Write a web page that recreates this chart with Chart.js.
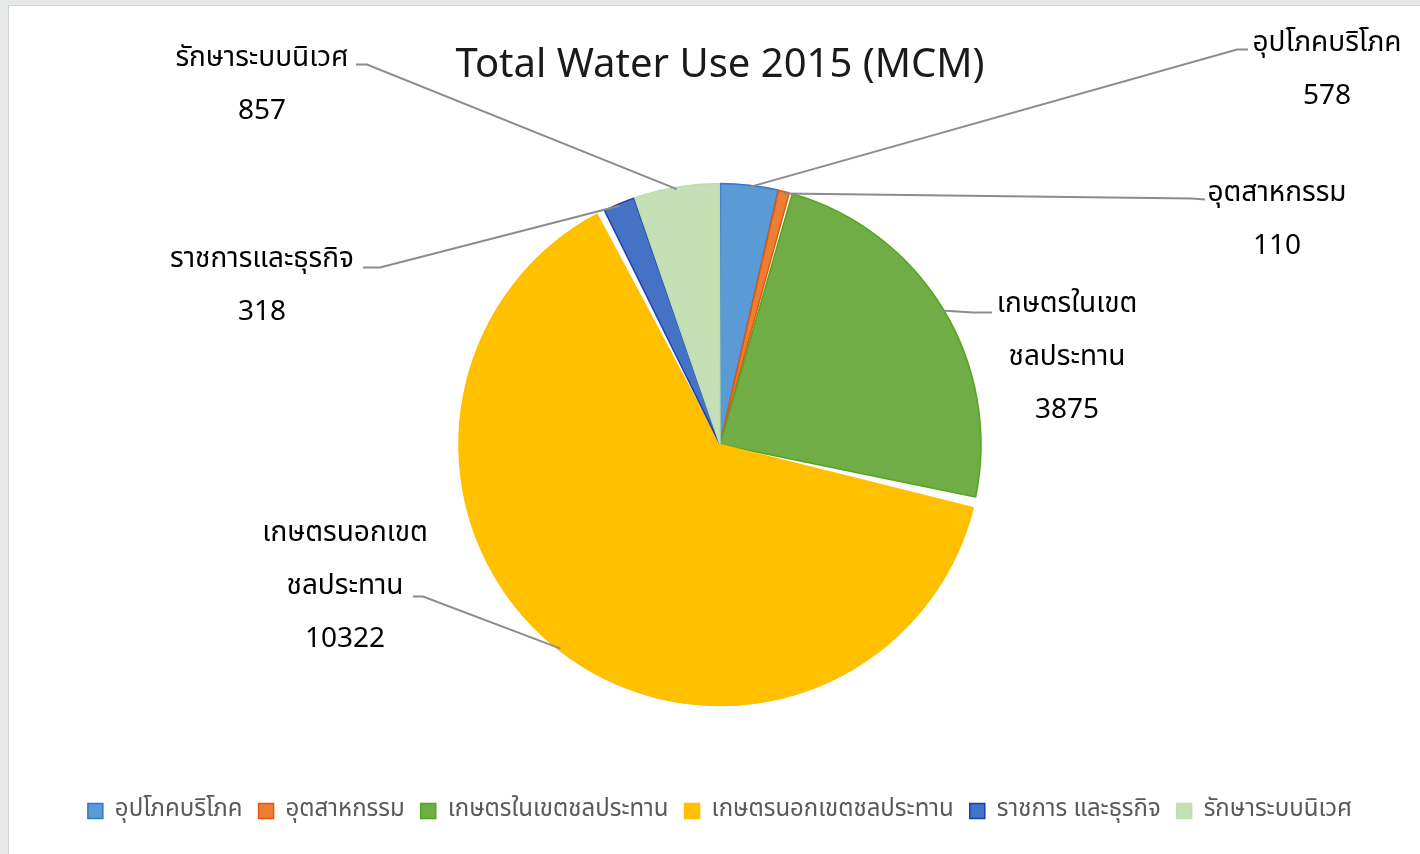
<!DOCTYPE html>
<html>
<head>
<meta charset="utf-8">
<script src="https://cdn.jsdelivr.net/npm/chart.js@4.4.1/dist/chart.umd.min.js"></script>
<style>
  html, body { margin: 0; padding: 0; }
  body { width: 1420px; height: 854px; background: #e6e8e8; position: relative; overflow: hidden; }
  .frame { position: absolute; left: 8px; top: 5px; right: 0; bottom: 0; background: #fff; border-left: 1px solid #cdd1d1; border-top: 1px solid #cdd1d1; }
  #water-chart { position: absolute; left: 0; top: 0; }
</style>
</head>
<body>
<div class="frame"></div>
<canvas id="water-chart" width="1420" height="854"></canvas>
<script>
const FONT = "Tahoma, 'Noto Sans Thai', 'Noto Sans', 'DejaVu Sans', sans-serif";

// categories as shown in the legend
const categories = ["อุปโภคบริโภค", "อุตสาหกรรม", "เกษตรในเขตชลประทาน", "เกษตรนอกเขตชลประทาน", "ราชการ และธุรกิจ", "รักษาระบบนิเวศ"];
// names as written next to the slices
const sliceNames = [["อุปโภคบริโภค"], ["อุตสาหกรรม"], ["เกษตรในเขต", "ชลประทาน"], ["เกษตรนอกเขต", "ชลประทาน"], ["ราชการและธุรกิจ"], ["รักษาระบบนิเวศ"]];
// water use in million cubic metres
const waterUse = [578, 110, 3875, 10322, 318, 857];

const fillColors = ["#5B9BD5", "#ED7D31", "#70AD47", "#FFC000", "#4472C4", "#C5E0B4"];
const edgeColors = ["#2F7ACF", "#E8560C", "#55A51E", "#FFBE00", "#1B3DB3", "#C0DDAE"];

// label layout, offsets from the pie centre: elbow of leader, end of leader, centre of text block, line that the leader hits
const labelLayout = [
  { elbow: [517, -395], end: [528, -395], text: [607, -403], hook: 0 },
  { elbow: [472, -246], end: [485, -245], text: [557, -253], hook: 0 },
  { elbow: [253, -132], end: [272, -132], text: [347, -142], hook: 0 },
  { elbow: [-297, 152], end: [-307, 152], text: [-375, 140], hook: 1 },
  { elbow: [-340, -177], end: [-357, -177], text: [-458, -187], hook: 0 },
  { elbow: [-353, -380], end: [-364, -380], text: [-458, -388], hook: 0 }
];

//draw slice names, values and leader lines
const sliceLabels = {
  id: "sliceLabels",
  afterDatasetsDraw(chart) {
    const ctx = chart.ctx;
    const meta = chart.getDatasetMeta(0);
    const cx = (chart.chartArea.left + chart.chartArea.right) / 2;
    const cy = (chart.chartArea.top + chart.chartArea.bottom) / 2;
    ctx.save();
    meta.data.forEach((arc, i) => {
      const p = arc.getProps(["x", "y", "startAngle", "endAngle", "outerRadius"], true);
      const mid = (p.startAngle + p.endAngle) / 2;
      const sx = p.x + Math.cos(mid) * p.outerRadius;
      const sy = p.y + Math.sin(mid) * p.outerRadius;
      const lay = labelLayout[i];
      ctx.strokeStyle = "#8c8c8c";
      ctx.lineWidth = 2;
      ctx.beginPath();
      ctx.moveTo(sx, sy);
      ctx.lineTo(cx + lay.elbow[0], cy + lay.elbow[1]);
      ctx.lineTo(cx + lay.end[0], cy + lay.end[1]);
      ctx.stroke();

      const lines = sliceNames[i].concat([String(chart.data.datasets[0].data[i])]);
      ctx.fillStyle = "#000";
      ctx.font = "28px " + FONT;
      ctx.textAlign = "center";
      ctx.textBaseline = "middle";
      const tx = cx + lay.text[0];
      const ty = cy + lay.text[1] - lay.hook * 53 + 4;
      lines.forEach((ln, k) => ctx.fillText(ln, tx, ty + k * 53));
    });
    ctx.restore();
  }
};

new Chart(document.getElementById("water-chart"), {
  type: "pie",
  data: {
    labels: categories,
    datasets: [{
      data: waterUse,
      backgroundColor: fillColors,
      borderColor: edgeColors,
      borderWidth: 1.5,
      spacing: 4,
      radius: 259
    }]
  },
  options: {
    responsive: false,
    animation: false,
    layout: { padding: { left: 20, right: 0, top: 0, bottom: 21 } },
    plugins: {
      title: {
        display: true,
        text: "Total Water Use 2015 (MCM)",
        color: "#1a1a1a",
        font: { family: FONT, size: 40, weight: "normal" },
        padding: { top: 45, bottom: 13 }
      },
      legend: {
        position: "bottom",
        labels: {
          color: "#595959",
          font: { family: FONT, size: 24 },
          boxWidth: 15,
          boxHeight: 15,
          padding: 16
        }
      },
      tooltip: { enabled: false }
    }
  },
  plugins: [sliceLabels]
});
</script>
</body>
</html>
